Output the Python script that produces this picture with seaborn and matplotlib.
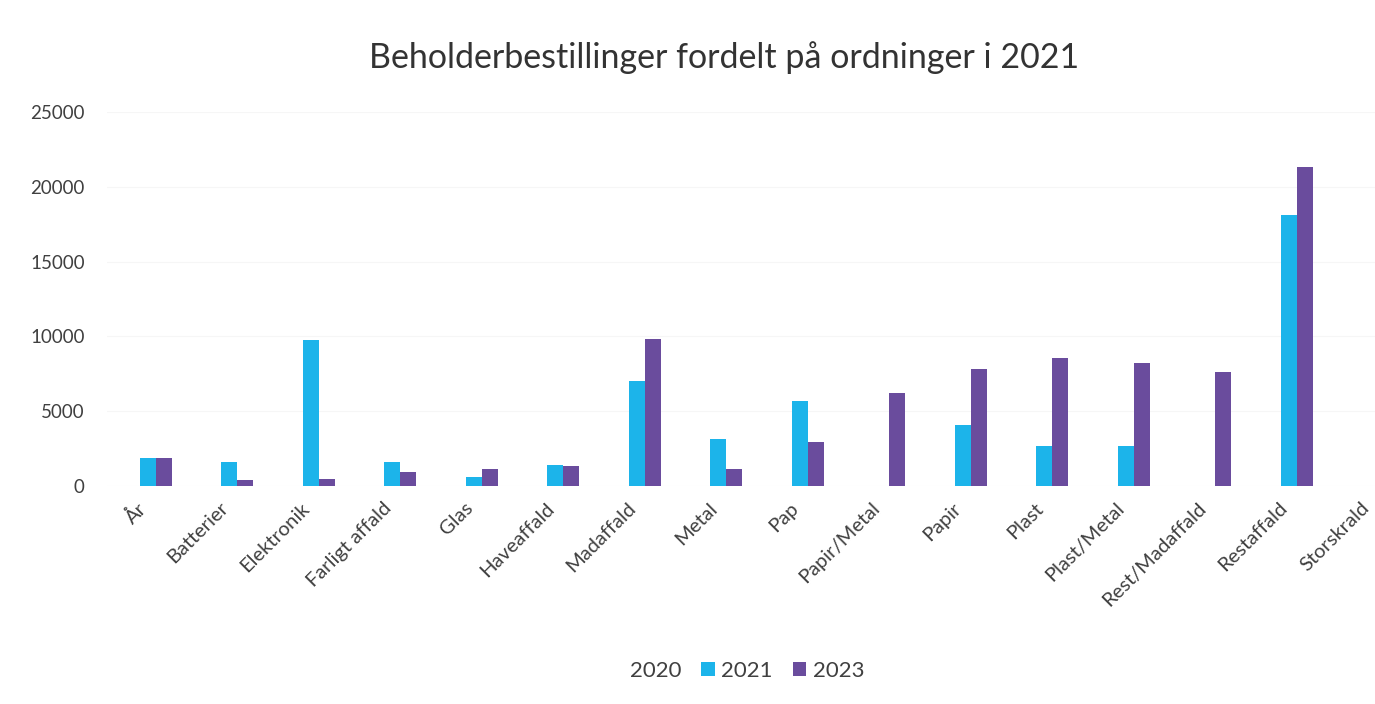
import matplotlib
matplotlib.use('Agg')
import matplotlib.pyplot as plt
import matplotlib.transforms as mtransforms
import pandas as pd
import seaborn as sns

# Data
kategorier = ['År', 'Batterier', 'Elektronik', 'Farligt affald', 'Glas', 'Haveaffald',
              'Madaffald', 'Metal', 'Pap', 'Papir/Metal', 'Papir', 'Plast', 'Plast/Metal',
              'Rest/Madaffald', 'Restaffald', 'Storskrald']
serier = ['2020', '2021', '2023']
v2020 = [0, 0, 0, 0, 0, 0, 0, 0, 0, 0, 0, 0, 0, 0, 0, 0]
v2021 = [1900, 1600, 9750, 1600, 580, 1430, 7000, 3150, 5700, 0, 4050, 2700, 2700, 0, 18100, 0]
v2023 = [1900, 420, 490, 920, 1160, 1340, 9850, 1160, 2970, 6200, 7820, 8580, 8220, 7620, 21350, 0]

df = pd.DataFrame({
    'kategori': kategorier * 3,
    'år': ['2020'] * 16 + ['2021'] * 16 + ['2023'] * 16,
    'antal': v2020 + v2021 + v2023,
})

sns.set_style('white')
plt.rcParams['font.family'] = ['Lato', 'DejaVu Sans']
txt = '#404040'

fig = plt.figure(figsize=(13.75, 7.04), dpi=100)
ax = fig.add_axes([107 / 1375, 1 - 486 / 704, 1 - 107 / 1375, (486 - 112) / 704])

palette = {'2020': '#ffffff', '2021': '#1cb4ea', '2023': '#6a4c9d'}
sns.barplot(data=df, x='kategori', y='antal', hue='år', hue_order=serier,
            order=kategorier, palette=palette, width=0.59, gap=0,
            saturation=1, linewidth=0, ax=ax, legend=True)

ax.set_ylim(0, 25000)
ax.set_xlim(-0.5, -0.5 + (1375 - 107) / 81.5)
ax.set_yticks([0, 5000, 10000, 15000, 20000, 25000])
ax.yaxis.grid(True, color='#f6f6f6', linewidth=0.8)
ax.set_axisbelow(True)
for s in ax.spines.values():
    s.set_visible(False)
ax.set_xlabel('')
ax.set_ylabel('')
ax.tick_params(axis='y', labelsize=13.5, colors=txt, length=0, pad=16)
ax.tick_params(axis='x', labelsize=14.5, colors=txt, length=0, pad=14)
shift = mtransforms.ScaledTranslation(-4 / 100, 0, fig.dpi_scale_trans)
for lab in ax.get_xticklabels():
    lab.set_rotation(45)
    lab.set_ha('right')
    lab.set_va('center')
    lab.set_rotation_mode('anchor')
    lab.set_transform(lab.get_transform() + shift)

fig.text(724 / 1375, 1 - 58 / 704, 'Beholderbestillinger fordelt på ordninger i 2021',
         ha='center', va='center', fontsize=24.5, color='#333333')

handles, labels = ax.get_legend_handles_labels()
ax.legend(handles, labels, loc='center', bbox_to_anchor=(737 / 1375, 1 - 671 / 704),
          bbox_transform=fig.transFigure, ncol=3, frameon=False, fontsize=16,
          handlelength=0.6, handleheight=0.6, handletextpad=0.3, columnspacing=0.9,
          labelcolor=txt)

fig.savefig('out.png', dpi=100)
